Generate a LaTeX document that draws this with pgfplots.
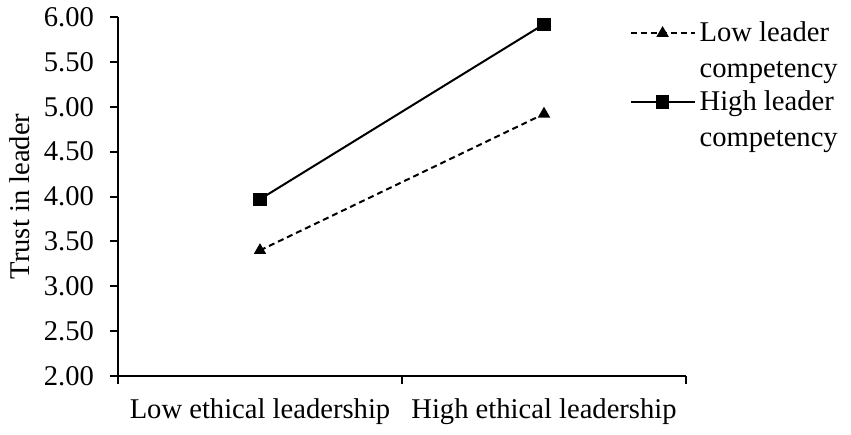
\documentclass[border=0pt]{standalone}
\usepackage{fontspec}
\setmainfont{Liberation Serif}
\usepackage{pgfplots}
\pgfplotsset{compat=1.18}
\begin{document}
\begin{tikzpicture}
\begin{axis}[
    scale only axis,
    width=284pt, height=179.5pt,
    xmin=0, xmax=2, ymin=2, ymax=6,
    axis lines=left,
    axis line style={-, line width=1pt},
    tick style={black, line width=1pt},
    tick align=outside,
    major tick length=4pt,
    minor tick length=4pt,
    xtick={0.5,1.5},
    xticklabels={Low ethical leadership, High ethical leadership},
    major x tick style={draw=none},
    minor xtick={0,1,2},
    x tick label style={yshift=-4pt},
    ytick={2,2.5,3,3.5,4,4.5,5,5.5,6},
    yticklabel style={/pgf/number format/fixed, /pgf/number format/fixed zerofill,
        /pgf/number format/precision=2, xshift=-4.5pt},
    /pgf/number format/assume math mode=true,
    font=\fontsize{14.3}{18}\selectfont,
    ylabel={Trust in leader},
    legend style={at={(axis description cs:0.9,1.0)}, anchor=north west,
        draw=none, fill=none, inner sep=0pt, row sep=1pt,
        cells={align=left, anchor=base west},
        font=\fontsize{14.3}{18}\selectfont},
    legend image code/.code={
        \draw[#1, mark repeat=2, mark phase=2] plot coordinates {(0pt,22pt) (16pt,22pt) (32pt,22pt)};},
    % y axis line and its ticks, in case the axis-lines mode leaves them out
    extra description/.code={
        \draw[line width=1pt] (rel axis cs:0,0) -- (rel axis cs:0,1);
        \foreach \t in {0,0.125,0.25,0.375,0.5,0.625,0.75,0.875,1}
            \draw[line width=1pt] (rel axis cs:0,\t) -- ++(-4pt,0);
    },
]
\addplot[black, line width=1pt, dash pattern=on 3pt off 2pt, mark=triangle*, mark size=2.6pt, mark options={solid}]
    coordinates {(0.5,3.40) (1.5,4.92)};
\addlegendentry{Low leader\\competency}
\addplot[black, line width=1pt, mark=square*, mark size=2.8pt]
    coordinates {(0.5,3.97) (1.5,5.92)};
\addlegendentry{High leader\\competency}
\end{axis}
\pgfresetboundingbox
\path ([shift={(-59pt,-29pt)}]current axis.south west) rectangle ([shift={(366.5pt,188pt)}]current axis.south west);
\end{tikzpicture}
\end{document}
